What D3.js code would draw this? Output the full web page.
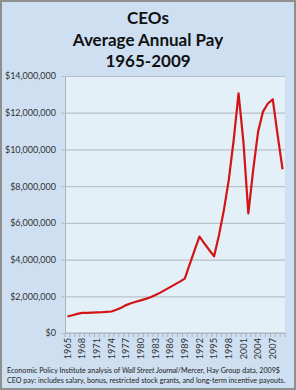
<!DOCTYPE html>
<html lang="en">
<head>
    <meta charset="UTF-8">
    <title>CEOs Average Annual Pay 1965-2009</title>
    <style>
        body {
            margin: 0;
            padding: 0;
            background: #ffffff;
        }

        text {
            font-family: Lato, "Open Sans", sans-serif;
            fill: #222;
        }
    </style>
</head>
<body>
<svg id="chart"></svg>

<script src="https://d3js.org/d3.v7.min.js"></script>
<script>
    // years 1965..2009
    var years = [
        1965, 1966, 1967, 1968, 1969, 1970, 1971, 1972, 1973, 1974,
        1975, 1976, 1977, 1978, 1979, 1980, 1981, 1982, 1983, 1984,
        1985, 1986, 1987, 1988, 1989, 1990, 1991, 1992, 1993, 1994,
        1995, 1996, 1997, 1998, 1999, 2000, 2001, 2002, 2003, 2004,
        2005, 2006, 2007, 2008, 2009
    ];

    // average annual pay, 2009 dollars
    var pay = [
        900000, 970000, 1040000, 1100000, 1100000, 1110000, 1120000, 1130000, 1150000, 1170000,
        1270000, 1380000, 1520000, 1620000, 1700000, 1780000, 1860000, 1950000, 2070000, 2200000,
        2350000, 2500000, 2650000, 2800000, 2960000, 3740000, 4500000, 5250000, 4880000, 4520000,
        4180000, 5340000, 6700000, 8340000, 10500000, 13060000, 10400000, 6520000, 8900000, 10970000,
        12060000, 12500000, 12730000, 10760000, 8920000
    ];

    var yTicks = [0, 2000000, 4000000, 6000000, 8000000, 10000000, 12000000, 14000000];
    var xLabelYears = [1965, 1968, 1971, 1974, 1977, 1980, 1983, 1986, 1989, 1992, 1995, 1998, 2001, 2004, 2007];

    var titleLines = ["CEOs", "Average Annual Pay", "1965-2009"];

    var W = 296, H = 390;
    var plot = {left: 65, right: 285, top: 76, bottom: 333};

    var svg = d3.select("#chart")
        .attr("width", W)
        .attr("height", H);

    // outer background + border
    svg.append("rect")
        .attr("x", 1).attr("y", 1)
        .attr("width", W - 2).attr("height", H - 2)
        .attr("fill", "#cddff1")
        .attr("stroke", "#8f8f8f")
        .attr("stroke-width", 2);

    // plot area
    svg.append("rect")
        .attr("x", plot.left).attr("y", plot.top)
        .attr("width", plot.right - plot.left)
        .attr("height", plot.bottom - plot.top)
        .attr("fill", "#e3f0f7");

    var x = d3.scaleBand()
        .domain(years)
        .range([plot.left, plot.right]);

    var y = d3.scaleLinear()
        .domain([0, 14000000])
        .range([plot.bottom, plot.top]);

    // title
    svg.append("g").selectAll("text")
        .data(titleLines)
        .enter()
        .append("text")
        .attr("x", W / 2)
        .attr("y", function (d, i) { return 24 + i * 21.5; })
        .attr("text-anchor", "middle")
        .style("font-size", "17px")
        .style("font-weight", "bold")
        .style("fill", "#111")
        .text(function (d) { return d; });

    // y axis with gridlines
    var fmt = d3.format("$,");
    var yAxis = svg.append("g")
        .attr("transform", "translate(" + plot.left + ",0)")
        .call(d3.axisLeft(y)
            .tickValues(yTicks)
            .tickSize(-(plot.right - plot.left))
            .tickSizeOuter(0)
            .tickPadding(9)
            .tickFormat(function (d) { return fmt(d); }));
    yAxis.select(".domain").attr("stroke", "#a9b4bb");
    yAxis.selectAll(".tick line")
        .attr("x1", -4)
        .attr("stroke", "#b9c2c7")
        .attr("stroke-width", 1.2);
    yAxis.selectAll(".tick text")
        .style("font-size", "9px")
        .style("fill", "#333");

    // x axis: ticks at every band edge
    var xg = svg.append("g")
        .attr("transform", "translate(0," + plot.bottom + ")");
    xg.append("line")
        .attr("x1", plot.left).attr("x2", plot.right)
        .attr("stroke", "#a9b4bb");
    xg.selectAll(".xtick")
        .data(years.concat([null]))
        .enter()
        .append("line")
        .attr("class", "xtick")
        .attr("x1", function (d, i) { return plot.left + i * x.step(); })
        .attr("x2", function (d, i) { return plot.left + i * x.step(); })
        .attr("y1", 0).attr("y2", 4)
        .attr("stroke", "#a9b4bb");
    xg.selectAll(".xlabel")
        .data(xLabelYears)
        .enter()
        .append("text")
        .attr("class", "xlabel")
        .attr("transform", function (d) {
            return "translate(" + (x(d) + x.bandwidth() / 2 + 3.2) + ",5) rotate(-90)";
        })
        .attr("text-anchor", "end")
        .style("font-size", "9.2px")
        .style("fill", "#333")
        .text(function (d) { return d; });

    // line
    var line = d3.line()
        .x(function (d, i) { return x(years[i]) + x.bandwidth() / 2; })
        .y(function (d) { return y(d); });

    svg.append("path")
        .datum(pay)
        .attr("d", line)
        .attr("fill", "none")
        .attr("stroke", "#d41414")
        .attr("stroke-width", 2.2)
        .attr("stroke-linejoin", "round");

    // footnote
    var note = svg.append("text")
        .attr("x", 7)
        .attr("y", 373)
        .style("font-size", "7.15px")
        .style("fill", "#222");
    note.append("tspan").text("Economic Policy Institute analysis of ");
    note.append("tspan").style("font-style", "italic").text("Wall Street Journal");
    note.append("tspan").text("/Mercer, Hay Group data, 2009$");

    svg.append("text")
        .attr("x", 7)
        .attr("y", 383)
        .style("font-size", "7.15px")
        .style("fill", "#222")
        .text("CEO pay: includes salary, bonus, restricted stock grants, and long-term incentive payouts.");
</script>
</body>
</html>
